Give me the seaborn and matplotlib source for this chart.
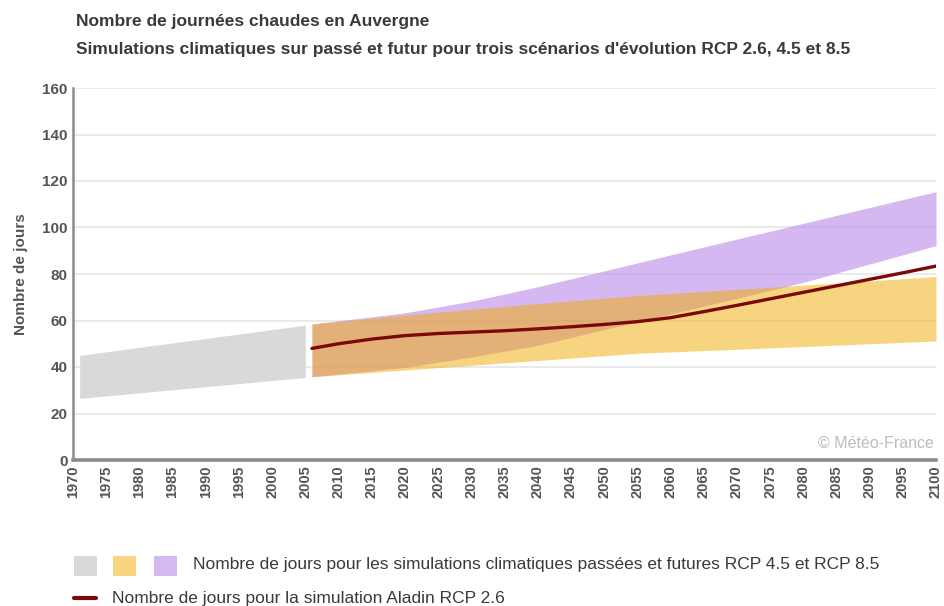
import matplotlib
matplotlib.use("Agg")
import matplotlib.pyplot as plt
from matplotlib.patches import Rectangle
from matplotlib.lines import Line2D
import pandas as pd
import seaborn as sns

# Past simulations (grey band)
past_years = [1971, 2005]
past_low = [26.5, 35.5]
past_high = [45.0, 58.0]

# RCP 4.5 envelope (yellow band)
rcp45_years = [2006, 2020, 2040, 2055, 2080, 2100]
rcp45_low = [35.8, 38.7, 42.8, 45.9, 48.8, 51.2]
rcp45_high = [58.5, 62.3, 67.3, 70.7, 75.2, 78.9]

# RCP 8.5 envelope (purple band)
rcp85_years = [2006, 2020, 2030, 2040, 2050, 2060, 2070, 2080, 2090, 2100]
rcp85_low = [35.8, 39.8, 44.3, 49.3, 56.1, 62.8, 69.5, 76.4, 84.3, 92.2]
rcp85_high = [58.5, 63.3, 68.3, 74.5, 81.3, 88.2, 95.0, 101.8, 108.6, 115.4]

# Aladin RCP 2.6 simulation
aladin_years = [2006, 2010, 2015, 2020, 2025, 2030, 2035, 2040, 2045, 2050,
                2055, 2060, 2065, 2070, 2075, 2080, 2085, 2090, 2095, 2100]
aladin_days = [48.0, 50.0, 52.0, 53.5, 54.4, 55.0, 55.6, 56.4, 57.3, 58.3,
               59.5, 61.2, 63.8, 66.5, 69.3, 72.1, 74.9, 77.7, 80.5, 83.4]

year_ticks = list(range(1970, 2101, 5))
day_ticks = list(range(0, 161, 20))

title = "Nombre de journées chaudes en Auvergne"
subtitle = ("Simulations climatiques sur passé et futur pour trois scénarios "
            "d'évolution RCP 2.6, 4.5 et 8.5")
legend_bands = ("Nombre de jours pour les simulations climatiques passées et "
                "futures RCP 4.5 et RCP 8.5")
legend_line = "Nombre de jours pour la simulation Aladin RCP 2.6"

sns.set_theme(style="white")
plt.rcParams["font.family"] = ["Liberation Sans", "DejaVu Sans"]

GREY = "#d9d9d9"
PURPLE = (185 / 255, 138 / 255, 232 / 255)
YELLOW = (241 / 255, 171 / 255, 0.0)
LINE = "#7a0a0a"
TEXT = "#3a3a3a"
AXIS = "#8c8c8c"

W, H = 944, 606
fig = plt.figure(figsize=(W / 100, H / 100), dpi=100)
ax = fig.add_axes([73 / W, 1 - 460 / H, (936 - 73) / W, 372 / H])

ax.fill_between(past_years, past_low, past_high, color=GREY, lw=0, zorder=2)
ax.fill_between(rcp85_years, rcp85_low, rcp85_high, color=PURPLE, alpha=0.6,
                lw=0, zorder=2)
ax.fill_between(rcp45_years, rcp45_low, rcp45_high, color=YELLOW, alpha=0.5,
                lw=0, zorder=3)

aladin = pd.DataFrame({"annee": aladin_years, "jours": aladin_days})
sns.lineplot(data=aladin, x="annee", y="jours", color=LINE, lw=2.4,
             ax=ax, zorder=4)

ax.set_xlim(1970, 2100)
ax.set_ylim(0, 160)
ax.set_xticks(year_ticks)
ax.set_yticks(day_ticks)
ax.set_xticklabels([str(y) for y in year_ticks], rotation=90,
                   fontweight="bold", color="#555555", fontsize=10.5)
ax.set_yticklabels([str(v) for v in day_ticks], fontweight="bold",
                   color="#555555", fontsize=11)
ax.tick_params(axis="both", length=0, pad=4)
ax.set_xlabel("")
ax.set_ylabel("Nombre de jours", fontweight="bold", color="#555555",
              fontsize=11, labelpad=10)

ax.grid(axis="y", color="#e6e6e6", lw=1.2, zorder=1)
ax.set_axisbelow(True)
for side in ("top", "right"):
    ax.spines[side].set_visible(False)
ax.spines["left"].set_color(AXIS)
ax.spines["left"].set_linewidth(1.8)
ax.spines["bottom"].set_color(AXIS)
ax.spines["bottom"].set_linewidth(2.6)

ax.text(0.998, 0.045, "© Météo-France", transform=ax.transAxes,
        ha="right", va="center", color="#bdbdbd", fontsize=11.5)

fig.text(0.08, 0.965, title, fontweight="bold", color=TEXT,
         fontsize=12.5, va="center")
fig.text(0.08, 0.918, subtitle, fontweight="bold", color=TEXT,
         fontsize=12.5, va="center")

# Legend drawn below the plot area
for x0, c in [(74, GREY), (113, "#f8d57e"), (154, "#d5b9f1")]:
    fig.add_artist(Rectangle((x0 / W, 1 - 576 / H), 23 / W, 20 / H,
                             transform=fig.transFigure, color=c, lw=0))
fig.text(193 / W, 1 - 565 / H, legend_bands, color=TEXT,
         fontsize=12.5, va="center")
fig.add_artist(Line2D([74 / W, 96 / W], [1 - 598 / H, 1 - 598 / H],
                      transform=fig.transFigure, color=LINE, lw=3))
fig.text(112 / W, 1 - 598 / H, legend_line, color=TEXT,
         fontsize=12.5, va="center")

fig.savefig("out.png", dpi=100)
